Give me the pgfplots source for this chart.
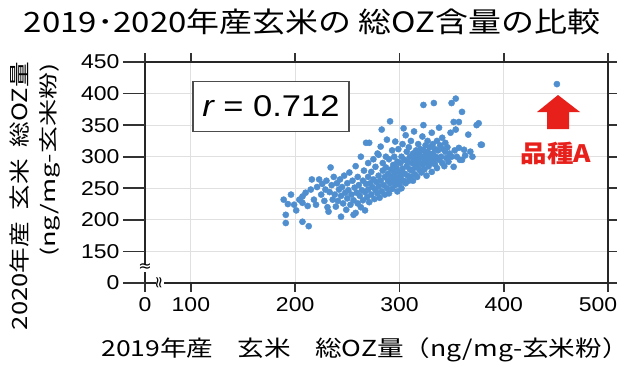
\documentclass[border=0pt]{standalone}
\usepackage{fontspec}
\setmainfont[FakeStretch=1.15]{Liberation Sans}
\newfontfamily\jp[FakeStretch=1.1]{Noto Sans CJK JP}
\newfontfamily\sym{DejaVu Sans}
\usepackage{pgfplots}
\pgfplotsset{compat=1.18}
\definecolor{dotblue}{HTML}{4F8FCF}
\definecolor{arrowred}{HTML}{E8201C}
\pgfplotstableread{
x y
189 232
191 208
191 195
193 225
196 240
199 224
201 215
204 232
207 237
207 227
207 197
210 243
213 190
212 222
215 248
216 264
218 232
220 224
221 252
223 264
225 240
226 257
228 230
229 248
230 262
231 220
232 213
233 244
234 283
235 255
236 232
237 268
238 240
239 221
240 258
241 230
242 248
243 264
244 205
244 238
245 252
246 226
247 270
248 243
249 216
250 234
250 258
251 247
252 275
253 224
254 240
255 262
256 208
256 231
257 251
258 285
258 211
259 243
260 268
260 226
261 255
262 238
263 300
263 220
264 247
265 262
265 231
266 278
267 244
267 215
268 322
268 257
269 236
270 268
270 290
270 248
271 322
271 228
272 258
273 240
273 276
274 252
275 296
275 264
276 233
277 247
277 284
278 260
279 242
279 305
280 303
280 270
280 253
281 235
282 316
282 262
283 343
283 245
284 278
284 290
285 255
286 268
286 240
287 300
287 283
288 327
288 250
289 262
289 273
290 296
290 242
291 356
291 258
292 280
292 268
293 310
293 249
294 287
294 262
295 275
295 300
296 324
296 255
297 268
297 283
298 245
298 292
299 312
299 262
300 276
300 256
301 290
301 268
302 300
302 250
303 281
303 320
304 345
304 262
305 273
305 295
306 334
306 258
307 285
307 308
308 270
308 292
309 262
309 315
310 280
310 300
311 268
311 325
312 290
312 278
313 305
313 262
314 295
314 340
315 283
315 272
316 310
316 300
317 288
317 268
318 320
318 295
319 280
319 305
320 290
320 312
321 300
321 275
322 332
322 288
323 382
323 350
323 310
324 296
324 280
325 318
325 302
326 290
326 270
327 325
327 308
328 295
328 285
329 315
329 300
330 290
331 338
331 276
332 305
332 320
333 385
333 295
334 312
334 288
335 300
336 325
336 282
337 310
338 346
338 295
339 318
340 300
341 330
341 290
342 312
343 285
344 308
344 322
345 298
346 315
347 292
348 305
349 338
350 385
350 300
352 355
352 284
353 310
354 392
354 343
355 300
357 355
357 314
358 295
360 371
360 295
362 311
363 302
366 335
368 308
370 300
374 350
376 353
378 319
379 319
451 415
}\datatable
\begin{document}
\begin{tikzpicture}[x=1pt,y=1pt]
\useasboundingbox (-145,-82) rectangle (477,283);
\begin{axis}[
  at={(0,0)}, anchor=south west,
  width=463pt, height=221pt, scale only axis,
  xmin=56, xmax=500, ymin=100, ymax=450,
  xtick={56,100,200,300,400,500}, xticklabels={0,100,200,300,400,\hspace*{-20pt}500},
  ytick={100,150,200,250,300,350,400,450},
  yticklabels={0,150,200,250,300,350,400,450},
  grid=major, major grid style={draw=black!12, line width=1.2pt},
  axis line style={line width=2pt, black!85},
  tick style={line width=1.8pt, black!80},
  tick align=outside,
  major tick length=9pt,
  yticklabel style={xshift=-13pt},
  xticklabel style={yshift=-2pt},
  ticklabel style={font=\fontsize{20}{20}\selectfont},
  /pgf/number format/assume math mode=true,
  clip=false,
]
\addplot[only marks, mark=*, mark size=3.1pt, dotblue, mark options={draw=none, fill=dotblue}] table[x=x,y=y] {\datatable};
\node[draw=black!70, line width=1.2pt, fill=white, minimum width=156pt, minimum height=50pt, font=\fontsize{30}{30}\selectfont] at (axis cs:176.8,380) {{\itshape r} = 0.712};
\end{axis}
% long y ticks
\foreach \v in {100,150,...,450} {
  \draw[line width=1.8pt, black!80] (-22,{(\v-100)*0.6314}) -- (0,{(\v-100)*0.6314});
}
% break marks
\node[fill=white, inner sep=0pt, font=\sym\fontsize{16}{16}\selectfont] at (0,15) {≈};
\node[fill=white, inner sep=0pt, rotate=90, font=\sym\fontsize{16}{16}\selectfont] at (15,0) {≈};
% arrow
\fill[arrowred] (413,188) -- (435,171) -- (424,171) -- (424,154) -- (402,154) -- (402,171) -- (392,171) -- cycle;
\node[text=arrowred, font=\jp\bfseries\fontsize{24}{24}\selectfont] at (411,130) {品種A};
% title
\node[font=\jp\fontsize{28}{28}\selectfont] at (167,261) {\scalebox{1.07}[1]{2019･2020年産玄米の 総OZ含量の比較}};
% x label
\node[font=\jp\fontsize{22}{22}\selectfont] at (220,-67) {\scalebox{1.1}[1]{2019年産\hspace{1em}玄米\hspace{1em}総OZ量（ng/mg-玄米粉）}};
% y labels
\node[rotate=90, font=\jp\fontsize{21}{21}\selectfont] at (-125,87) {\scalebox{1.11}[1]{2020年産\hspace{0.5em}玄米\hspace{0.5em}総OZ量}};
\node[rotate=90, font=\jp\fontsize{19}{19}\selectfont] at (-95,123) {\scalebox{1.3}[1]{(ng/mg-玄米粉)}};
\end{tikzpicture}
\end{document}
